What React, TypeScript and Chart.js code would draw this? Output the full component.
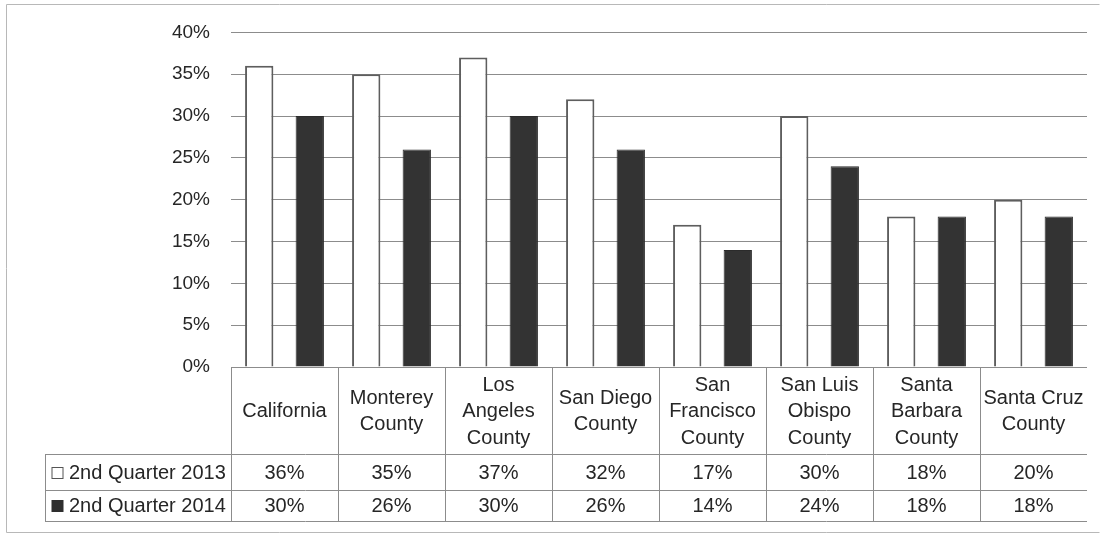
import React, { useEffect, useRef } from "react";
import { Chart, registerables } from "chart.js";

Chart.register(...registerables);

const categories: string[][] = [
  ["California"],
  ["Monterey", "County"],
  ["Los", "Angeles", "County"],
  ["San Diego", "County"],
  ["San", "Francisco", "County"],
  ["San Luis", "Obispo", "County"],
  ["Santa", "Barbara", "County"],
  ["Santa Cruz", "County"],
];
const seriesNames = ["2nd Quarter 2013", "2nd Quarter 2014"];
const q2013 = [36, 35, 37, 32, 17, 30, 18, 20];
const q2014 = [30, 26, 30, 26, 14, 24, 18, 18];
const yTicks = [0, 5, 10, 15, 20, 25, 30, 35, 40];

const FONT = '"Liberation Sans", Arial, sans-serif';
const TEXT = "#262626";
const LINE = "#8c8c8c";

const tablePlugin = {
  id: "dataTable",
  afterDraw(chart: any) {
    const ctx = chart.ctx as CanvasRenderingContext2D;
    const area = chart.chartArea;
    const xs = chart.scales.x;
    const n = categories.length;
    const colW = (area.right - area.left) / n;
    const top = area.bottom;
    const r1 = 454;
    const r2 = 490;
    const bottom = 521;
    const tableLeft = 45;
    ctx.save();
    // outer frame
    ctx.strokeStyle = "#b8b8b8";
    ctx.lineWidth = 1;
    ctx.beginPath();
    ctx.moveTo(6.5, 4.5);
    ctx.lineTo(1099.5, 4.5);
    ctx.moveTo(6.5, 4.5);
    ctx.lineTo(6.5, 532.5);
    ctx.lineTo(1099.5, 532.5);
    ctx.stroke();

    ctx.strokeStyle = LINE;
    ctx.lineWidth = 1;
    ctx.beginPath();
    ctx.moveTo(area.left, top + 0.5);
    ctx.lineTo(area.right, top + 0.5);
    for (const y of [r1, r2, bottom]) {
      ctx.moveTo(tableLeft, y + 0.5);
      ctx.lineTo(area.right, y + 0.5);
    }
    for (let i = 0; i < n; i++) {
      const x = Math.round(area.left + i * colW) + 0.5;
      ctx.moveTo(x, top);
      ctx.lineTo(x, bottom);
    }
    ctx.moveTo(tableLeft + 0.5, r1);
    ctx.lineTo(tableLeft + 0.5, bottom);
    ctx.stroke();

    ctx.fillStyle = TEXT;
    ctx.font = `20px ${FONT}`;
    ctx.textAlign = "center";
    ctx.textBaseline = "middle";
    const lh = 26.5;
    const hc = (top + r1) / 2;
    categories.forEach((lines, i) => {
      const cx = xs.getPixelForValue(i);
      const y0 = hc - ((lines.length - 1) * lh) / 2;
      lines.forEach((t, j) => ctx.fillText(t, cx, y0 + j * lh + 1));
      ctx.fillText(q2013[i] + "%", cx, (r1 + r2) / 2 + 1);
      ctx.fillText(q2014[i] + "%", cx, (r2 + bottom) / 2 + 1);
    });

    // legend keys
    ctx.textAlign = "left";
    const rows = [(r1 + r2) / 2, (r2 + bottom) / 2];
    rows.forEach((cy, k) => {
      const s = 11;
      const kx = 52;
      const ky = Math.round(cy - s / 2) + 0.5;
      if (k === 0) {
        ctx.fillStyle = "#ffffff";
        ctx.fillRect(kx, ky, s, s);
        ctx.strokeStyle = "#555";
        ctx.strokeRect(kx, ky, s, s);
      } else {
        ctx.fillStyle = "#2e2e2e";
        ctx.fillRect(kx - 0.5, ky - 0.5, s + 1, s + 1);
      }
      ctx.fillStyle = TEXT;
      ctx.fillText(seriesNames[k], 69, cy + 1);
    });
    ctx.restore();
  },
};

export default function App() {
  const ref = useRef<HTMLCanvasElement | null>(null);
  useEffect(() => {
    if (!ref.current) return;
    const chart = new Chart(ref.current, {
      type: "bar",
      data: {
        labels: categories.map((c) => c.join(" ")),
        datasets: [
          {
            label: seriesNames[0],
            data: q2013,
            backgroundColor: "#ffffff",
            borderColor: "#5e5e5e",
            borderWidth: 2,
            barPercentage: 0.56,
            categoryPercentage: 0.945,
          },
          {
            label: seriesNames[1],
            data: q2014,
            backgroundColor: "#333333",
            borderColor: "#2b2b2b",
            borderWidth: 1,
            barPercentage: 0.56,
            categoryPercentage: 0.945,
          },
        ],
      },
      options: {
        responsive: false,
        animation: false,
        layout: { padding: { top: 31, right: 20, left: 0, bottom: 0 } },
        plugins: {
          legend: { display: false },
          tooltip: { enabled: false },
          title: { display: false },
        },
        scales: {
          x: {
            grid: { display: false },
            border: { display: false },
            ticks: { display: false },
            afterFit(scale: any) {
              scale.height = 168;
            },
          },
          y: {
            min: 0,
            max: 40,
            afterBuildTicks(scale: any) {
              scale.ticks = yTicks.map((v) => ({ value: v }));
            },
            afterFit(scale: any) {
              scale.width = 231;
            },
            grid: { color: LINE, lineWidth: 1, drawTicks: false },
            border: { display: false },
            ticks: {
              padding: 21,
              color: TEXT,
              font: { family: FONT, size: 19 },
              callback: (v: any) => v + "%",
            },
          },
        },
      },
      plugins: [tablePlugin],
    });
    return () => chart.destroy();
  }, []);
  return (
    <div style={{ position: "fixed", left: 0, top: 0, width: 1107, height: 535, background: "#fff" }}>
      <canvas ref={ref} width={1107} height={535} />
    </div>
  );
}
